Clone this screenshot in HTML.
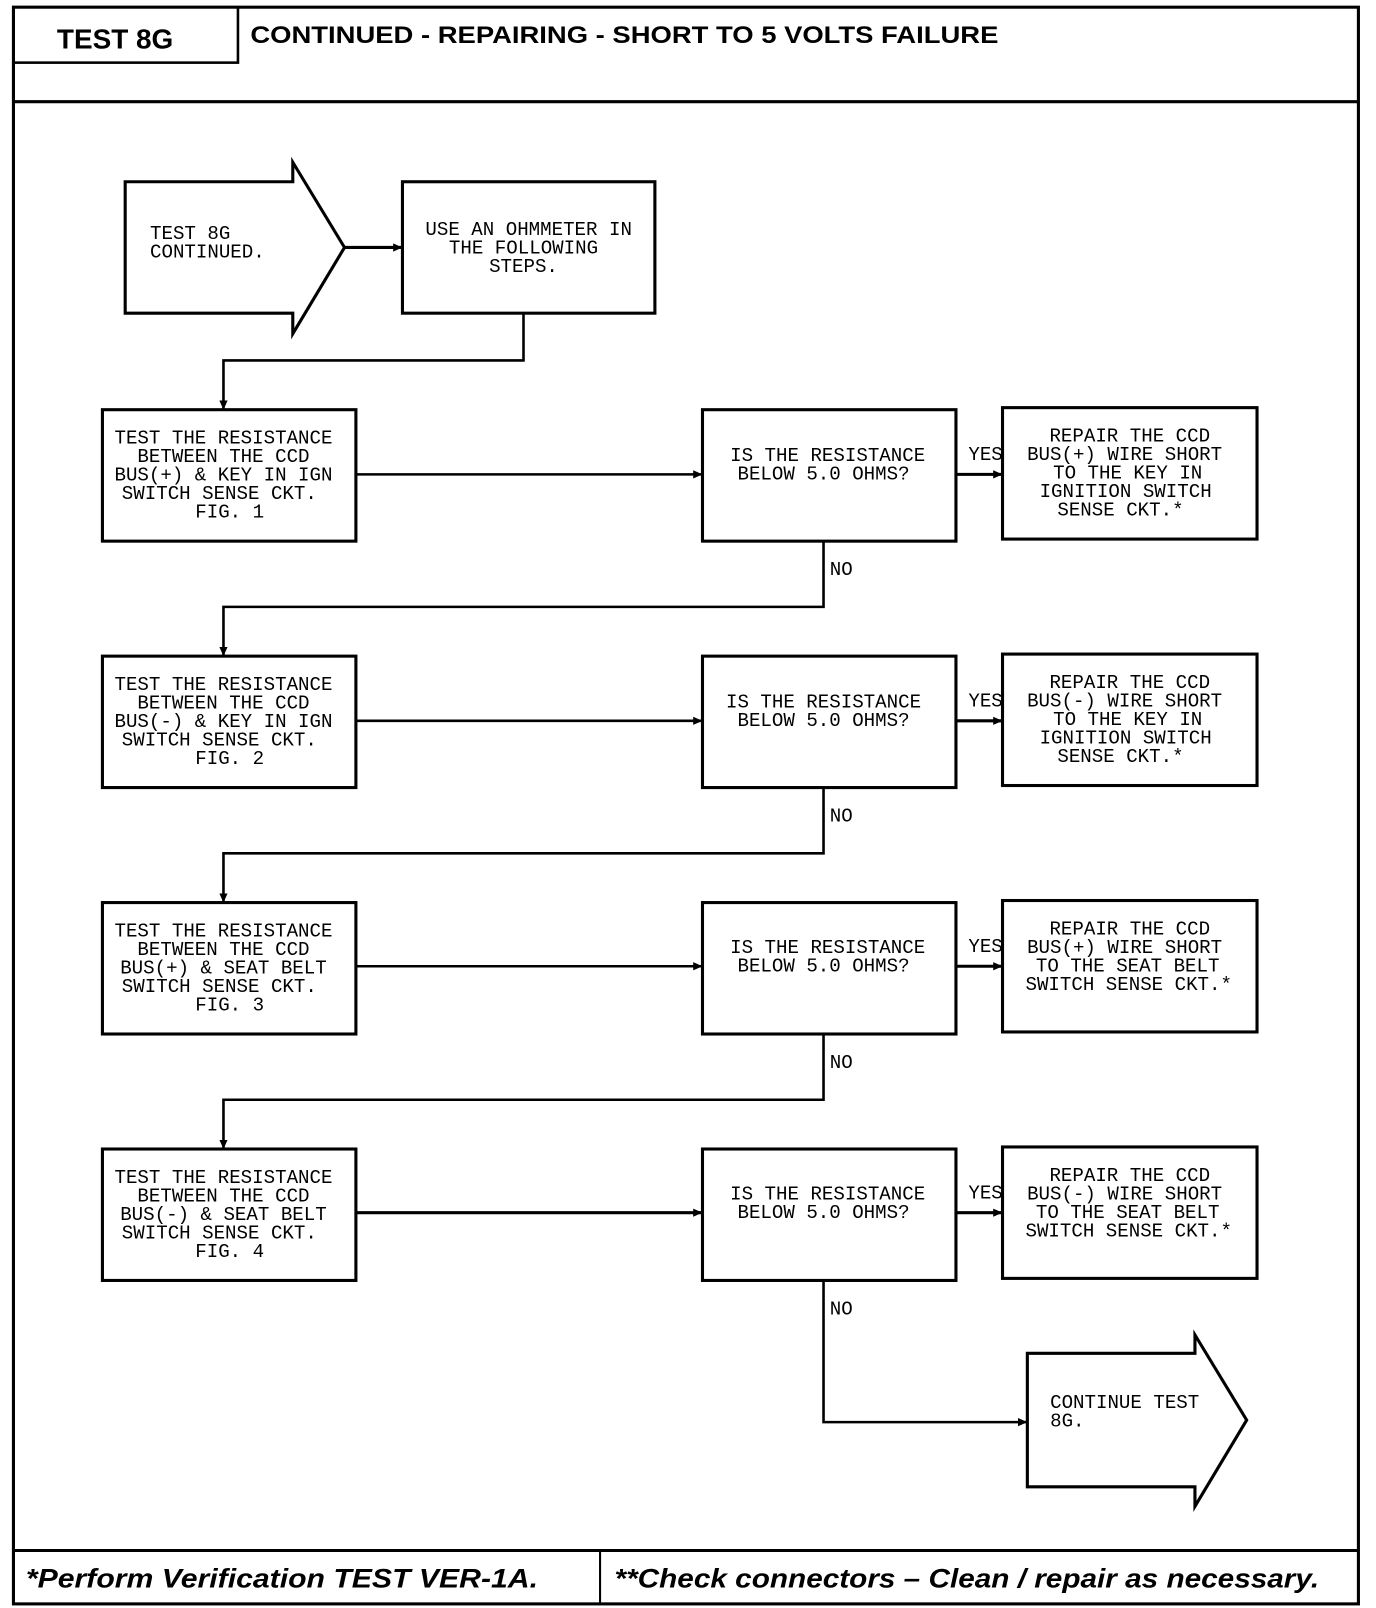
<!DOCTYPE html>
<html><head><meta charset="utf-8"><style>
html,body{margin:0;padding:0;background:#fff;}
svg{display:block;}
.t{font-family:"Liberation Mono",monospace;font-size:18.5px;fill:#000;}
.h{font-family:"Liberation Sans",sans-serif;font-weight:bold;fill:#000;}
</style></head><body>
<svg width="1376" height="1608" viewBox="0 0 1330 1566" preserveAspectRatio="none" xmlns="http://www.w3.org/2000/svg">
<defs><marker id="a" markerWidth="10" markerHeight="10" refX="9" refY="5" orient="auto" markerUnits="userSpaceOnUse"><path d="M0,1 L9,5 L0,9 Z" fill="#000"/></marker></defs>
<g fill="none" stroke="#000">
<rect x="13" y="7" width="1300" height="1555" stroke-width="3"/>
<rect x="13" y="7" width="217" height="54" stroke-width="2.5"/>
<line x1="13" y1="99" x2="1313" y2="99" stroke-width="3"/>
<line x1="13" y1="1510" x2="1313" y2="1510" stroke-width="3"/>
<line x1="580" y1="1510" x2="580" y2="1562" stroke-width="2"/>

<path d="M121,177 L283,177 L283,158 L333,241 L283,325 L283,305 L121,305 Z" stroke-width="3"/>
<rect x="389" y="177" width="244" height="128" stroke-width="3"/>
<line x1="333" y1="241" x2="389" y2="241" stroke-width="3" marker-end="url(#a)"/>
<polyline points="506,305 506,351 216,351 216,399" stroke-width="2.5" marker-end="url(#a)"/>

<rect x="99" y="399" width="245" height="128" stroke-width="3"/>
<rect x="679" y="399" width="245" height="128" stroke-width="3"/>
<rect x="969" y="397" width="246" height="128" stroke-width="3"/>
<line x1="344" y1="462" x2="679" y2="462" stroke-width="2.5" marker-end="url(#a)"/>
<line x1="924" y1="462" x2="969" y2="462" stroke-width="3" marker-end="url(#a)"/>
<polyline points="796,527 796,591 216,591 216,639" stroke-width="2.5" marker-end="url(#a)"/>

<rect x="99" y="639" width="245" height="128" stroke-width="3"/>
<rect x="679" y="639" width="245" height="128" stroke-width="3"/>
<rect x="969" y="637" width="246" height="128" stroke-width="3"/>
<line x1="344" y1="702" x2="679" y2="702" stroke-width="2.5" marker-end="url(#a)"/>
<line x1="924" y1="702" x2="969" y2="702" stroke-width="3" marker-end="url(#a)"/>
<polyline points="796,767 796,831 216,831 216,879" stroke-width="2.5" marker-end="url(#a)"/>

<rect x="99" y="879" width="245" height="128" stroke-width="3"/>
<rect x="679" y="879" width="245" height="128" stroke-width="3"/>
<rect x="969" y="877" width="246" height="128" stroke-width="3"/>
<line x1="344" y1="941" x2="679" y2="941" stroke-width="2.5" marker-end="url(#a)"/>
<line x1="924" y1="941" x2="969" y2="941" stroke-width="3" marker-end="url(#a)"/>
<polyline points="796,1007 796,1071 216,1071 216,1119" stroke-width="2.5" marker-end="url(#a)"/>

<rect x="99" y="1119" width="245" height="128" stroke-width="3"/>
<rect x="679" y="1119" width="245" height="128" stroke-width="3"/>
<rect x="969" y="1117" width="246" height="128" stroke-width="3"/>
<line x1="344" y1="1181" x2="679" y2="1181" stroke-width="3" marker-end="url(#a)"/>
<line x1="924" y1="1181" x2="969" y2="1181" stroke-width="3" marker-end="url(#a)"/>
<polyline points="796,1247 796,1385 993,1385" stroke-width="2.5" marker-end="url(#a)"/>
<path d="M993,1318 L1155,1318 L1155,1300 L1205,1383 L1155,1467 L1155,1448 L993,1448 Z" stroke-width="3"/>
</g>

<text class="h" x="55" y="47" font-size="27">TEST 8G</text>
<text class="h" x="242" y="42" font-size="23" textLength="723" lengthAdjust="spacingAndGlyphs">CONTINUED -  REPAIRING - SHORT TO 5 VOLTS FAILURE</text>

<g class="t">
<text x="145" y="233">TEST 8G</text>
<text x="145" y="251">CONTINUED.</text>
<g text-anchor="middle">
<text x="511" y="229">USE AN OHMMETER IN</text>
<text x="506" y="247">THE FOLLOWING</text>
<text x="506" y="265">STEPS.</text>

<text x="216" y="432">TEST THE RESISTANCE</text>
<text x="216" y="450">BETWEEN THE CCD</text>
<text x="216" y="468">BUS(+) &amp; KEY IN IGN</text>
<text x="212" y="486">SWITCH SENSE CKT.</text>
<text x="222" y="504">FIG. 1</text>
<text x="800" y="449">IS THE RESISTANCE</text>
<text x="796" y="467">BELOW 5.0 OHMS?</text>
<text x="1092" y="430">REPAIR THE CCD</text>
<text x="1087" y="448">BUS(+) WIRE SHORT</text>
<text x="1090" y="466">TO THE KEY IN</text>
<text x="1088" y="484">IGNITION SWITCH</text>
<text x="1083" y="502">SENSE CKT.*</text>

<text x="216" y="672">TEST THE RESISTANCE</text>
<text x="216" y="690">BETWEEN THE CCD</text>
<text x="216" y="708">BUS(-) &amp; KEY IN IGN</text>
<text x="212" y="726">SWITCH SENSE CKT.</text>
<text x="222" y="744">FIG. 2</text>
<text x="796" y="689">IS THE RESISTANCE</text>
<text x="796" y="707">BELOW 5.0 OHMS?</text>
<text x="1092" y="670">REPAIR THE CCD</text>
<text x="1087" y="688">BUS(-) WIRE SHORT</text>
<text x="1090" y="706">TO THE KEY IN</text>
<text x="1088" y="724">IGNITION SWITCH</text>
<text x="1083" y="742">SENSE CKT.*</text>

<text x="216" y="912">TEST THE RESISTANCE</text>
<text x="216" y="930">BETWEEN THE CCD</text>
<text x="216" y="948">BUS(+) &amp; SEAT BELT</text>
<text x="212" y="966">SWITCH SENSE CKT.</text>
<text x="222" y="984">FIG. 3</text>
<text x="800" y="928">IS THE RESISTANCE</text>
<text x="796" y="946">BELOW 5.0 OHMS?</text>
<text x="1092" y="910">REPAIR THE CCD</text>
<text x="1087" y="928">BUS(+) WIRE SHORT</text>
<text x="1090" y="946">TO THE SEAT BELT</text>
<text x="1091" y="964">SWITCH SENSE CKT.*</text>

<text x="216" y="1152">TEST THE RESISTANCE</text>
<text x="216" y="1170">BETWEEN THE CCD</text>
<text x="216" y="1188">BUS(-) &amp; SEAT BELT</text>
<text x="212" y="1206">SWITCH SENSE CKT.</text>
<text x="222" y="1224">FIG. 4</text>
<text x="800" y="1168">IS THE RESISTANCE</text>
<text x="796" y="1186">BELOW 5.0 OHMS?</text>
<text x="1092" y="1150">REPAIR THE CCD</text>
<text x="1087" y="1168">BUS(-) WIRE SHORT</text>
<text x="1090" y="1186">TO THE SEAT BELT</text>
<text x="1091" y="1204">SWITCH SENSE CKT.*</text>
</g>
<text x="936" y="448">YES</text>
<text x="936" y="688">YES</text>
<text x="936" y="927">YES</text>
<text x="936" y="1167">YES</text>
<text x="802" y="560">NO</text>
<text x="802" y="800">NO</text>
<text x="802" y="1040">NO</text>
<text x="802" y="1280">NO</text>
<text x="1015" y="1371">CONTINUE TEST</text>
<text x="1015" y="1389">8G.</text>
</g>

<text class="h" x="25" y="1546" font-size="26" font-style="italic" textLength="495" lengthAdjust="spacingAndGlyphs">*Perform Verification TEST VER-1A.</text>
<text class="h" x="594" y="1546" font-size="26" font-style="italic" textLength="681" lengthAdjust="spacingAndGlyphs">**Check connectors – Clean / repair as necessary.</text>
</svg>
</body></html>
